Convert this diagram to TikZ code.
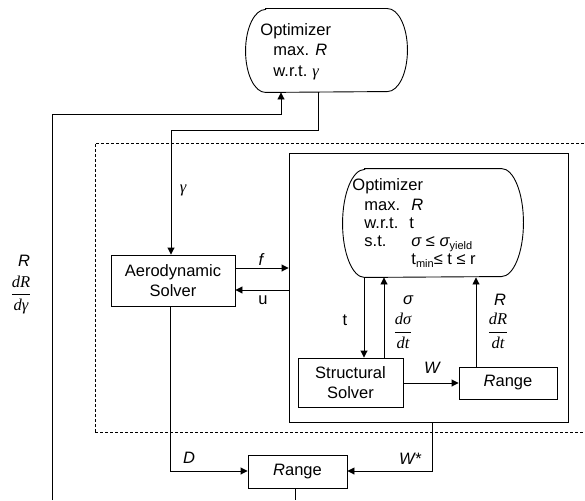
\documentclass[tikz,border=0pt]{standalone}
\usepackage{fontspec}
\setmainfont{Liberation Sans}
\newfontfamily\tms{Liberation Serif}
\usetikzlibrary{arrows.meta,calc}
\begin{document}
\begin{tikzpicture}[x=1pt,y=-1pt, line width=0.9pt,
  txt/.style={font=\fontsize{16.5}{19}\selectfont, inner sep=0pt},
  box/.style={draw, rectangle, align=center, inner sep=0pt, font=\fontsize{16.5}{19.5}\selectfont},
  arr/.style={-{Triangle[length=7pt,width=7pt]}},
  ghost/.style={inner sep=0pt, draw=none},
  frame/.style={inner sep=0pt, draw},
  dashbox/.style={inner sep=0pt, draw, dash pattern=on 3pt off 2pt}]
\useasboundingbox (0,0) rectangle (585,500);
\clip (0,0) rectangle (585,500);

% outer optimizer
\node[ghost, minimum width=161pt, minimum height=83pt] (o1) at (326.5,50.5) {};
\draw ($(o1.north west)+(20,0)$) -- ($(o1.north east)+(-20,0)$)
  arc[start angle=-90, end angle=90, x radius=20, y radius=41.5]
  -- ($(o1.south west)+(20,0)$)
  arc[start angle=90, end angle=270, x radius=20, y radius=41.5] -- cycle;
\node[txt, anchor=base west] (o1t1) at (260,36) {Optimizer};
\node[txt, anchor=base west] (o1t2) at (273,56) {max.};
\node[txt, anchor=base west] (o1t3) at (315,56) {\itshape R};
\node[txt, anchor=base west] (o1t4) at (273,77) {w.r.t.};
\node[txt, anchor=base west] (o1t5) at (312,77) {\tms\itshape γ};

% dashed frame and inner box
\node[dashbox, minimum width=500pt, minimum height=289pt] (dash) at (345,287.5) {};
\node[frame, minimum width=279pt, minimum height=269pt] (inner) at (428.5,287.5) {};

% inner optimizer
\node[ghost, minimum width=180pt, minimum height=108pt] (o2) at (433,223) {};
\draw ($(o2.north west)+(22,0)$) -- ($(o2.north east)+(-22,0)$)
  arc[start angle=-90, end angle=90, x radius=22, y radius=54]
  -- ($(o2.south west)+(22,0)$)
  arc[start angle=90, end angle=270, x radius=22, y radius=54] -- cycle;
\node[txt, anchor=base west] (o2t1) at (352,190) {Optimizer};
\node[txt, anchor=base west] (o2t2) at (364,210) {max.};
\node[txt, anchor=base west] (o2t3) at (411,210) {\itshape R};
\node[txt, anchor=base west] (o2t4) at (364,228) {w.r.t.};
\node[txt, anchor=base west] (o2t5) at (409,228) {t};
\node[txt, anchor=base west] (o2t6) at (364,246) {s.t.};
\node[txt, anchor=base west] (o2t7) at (411,246) {\itshape σ\upshape{} ≤ \itshape σ\upshape\raisebox{-3.5pt}{\fontsize{11}{11}\selectfont yield}};
\node[txt, anchor=base west] (o2t8) at (411,264) {t\raisebox{-3.5pt}{\fontsize{11}{11}\selectfont min}≤ t ≤ r};

% boxes
\node[box, minimum width=124pt, minimum height=51pt] (aero) at (173,280.5) {Aerodynamic\\Solver};
\node[box, minimum width=105pt, minimum height=49pt] (ss) at (350.5,382.5) {Structural\\Solver};
\node[box, minimum width=98pt, minimum height=32pt] (rng1) at (508,383) {\itshape R\upshape ange};
\node[box, minimum width=99pt, minimum height=33pt] (rng2) at (297.5,471.5) {\itshape R\upshape ange};

% helper coordinates
\coordinate (xa) at (281,0);
\coordinate (xb) at (318,0);
\coordinate (xc) at (171,0);
\coordinate (xd) at (170,0);
\coordinate (xe) at (432,0);
\coordinate (xf) at (295,0);
\coordinate (xt) at (364,0);
\coordinate (xs) at (384,0);
\coordinate (xr) at (476,0);
\coordinate (yf) at (0,268);
\coordinate (yu) at (0,290);
\coordinate (yw) at (0,383);
\coordinate (ybot) at (0,471);
\coordinate (lb) at (52,500);
\coordinate (rb) at (295,500);

% connectors
\draw[arr] (lb) -- (52,114) -| (o1.south -| xa);
\draw[arr] (o1.south -| xb) -- (318,130) -| (aero.north -| xc);
\draw[arr] (aero.east |- yf) -- (inner.west |- yf);
\draw[arr] (inner.west |- yu) -- (aero.east |- yu);
\draw[arr] (o2.south -| xt) -- (ss.north -| xt);
\draw[arr] (ss.north -| xs) -- (o2.south -| xs);
\draw[arr] (rng1.north -| xr) -- (o2.south -| xr);
\draw[arr] (ss.east |- yw) -- (rng1.west |- yw);
\draw[arr] (aero.south -| xd) |- (rng2.west |- ybot);
\draw[arr] (inner.south -| xe) |- (rng2.east |- ybot);
\draw (rng2.south -| xf) -- (rb);

% labels
\node[txt] (lg) at (183,190) {\tms\itshape γ};
\node[txt] (lf) at (261,260) {\itshape f};
\node[txt] (lu) at (263,300) {u};
\node[txt] (lt) at (345,320) {t};
\node[txt] (ls) at (408,300) {\itshape σ};
\node[txt] (lds) at (403,331) {$\displaystyle\frac{\mbox{\tms\itshape dσ}}{\mbox{\tms\itshape dt}}$};
\node[txt] (lr) at (500,300) {\itshape R};
\node[txt] (ldr) at (498,331) {$\displaystyle\frac{\mbox{\tms\itshape dR}}{\mbox{\tms\itshape dt}}$};
\node[txt] (lw) at (432,368) {\itshape W};
\node[txt] (ld) at (189,458) {\itshape D};
\node[txt] (lws) at (410,459) {\itshape W*};
\node[txt] (lR) at (24,261) {\itshape R};
\node[txt] (ldg) at (21,295) {$\displaystyle\frac{\mbox{\tms\itshape dR}}{\mbox{\tms\itshape dγ}}$};
\end{tikzpicture}
\end{document}
